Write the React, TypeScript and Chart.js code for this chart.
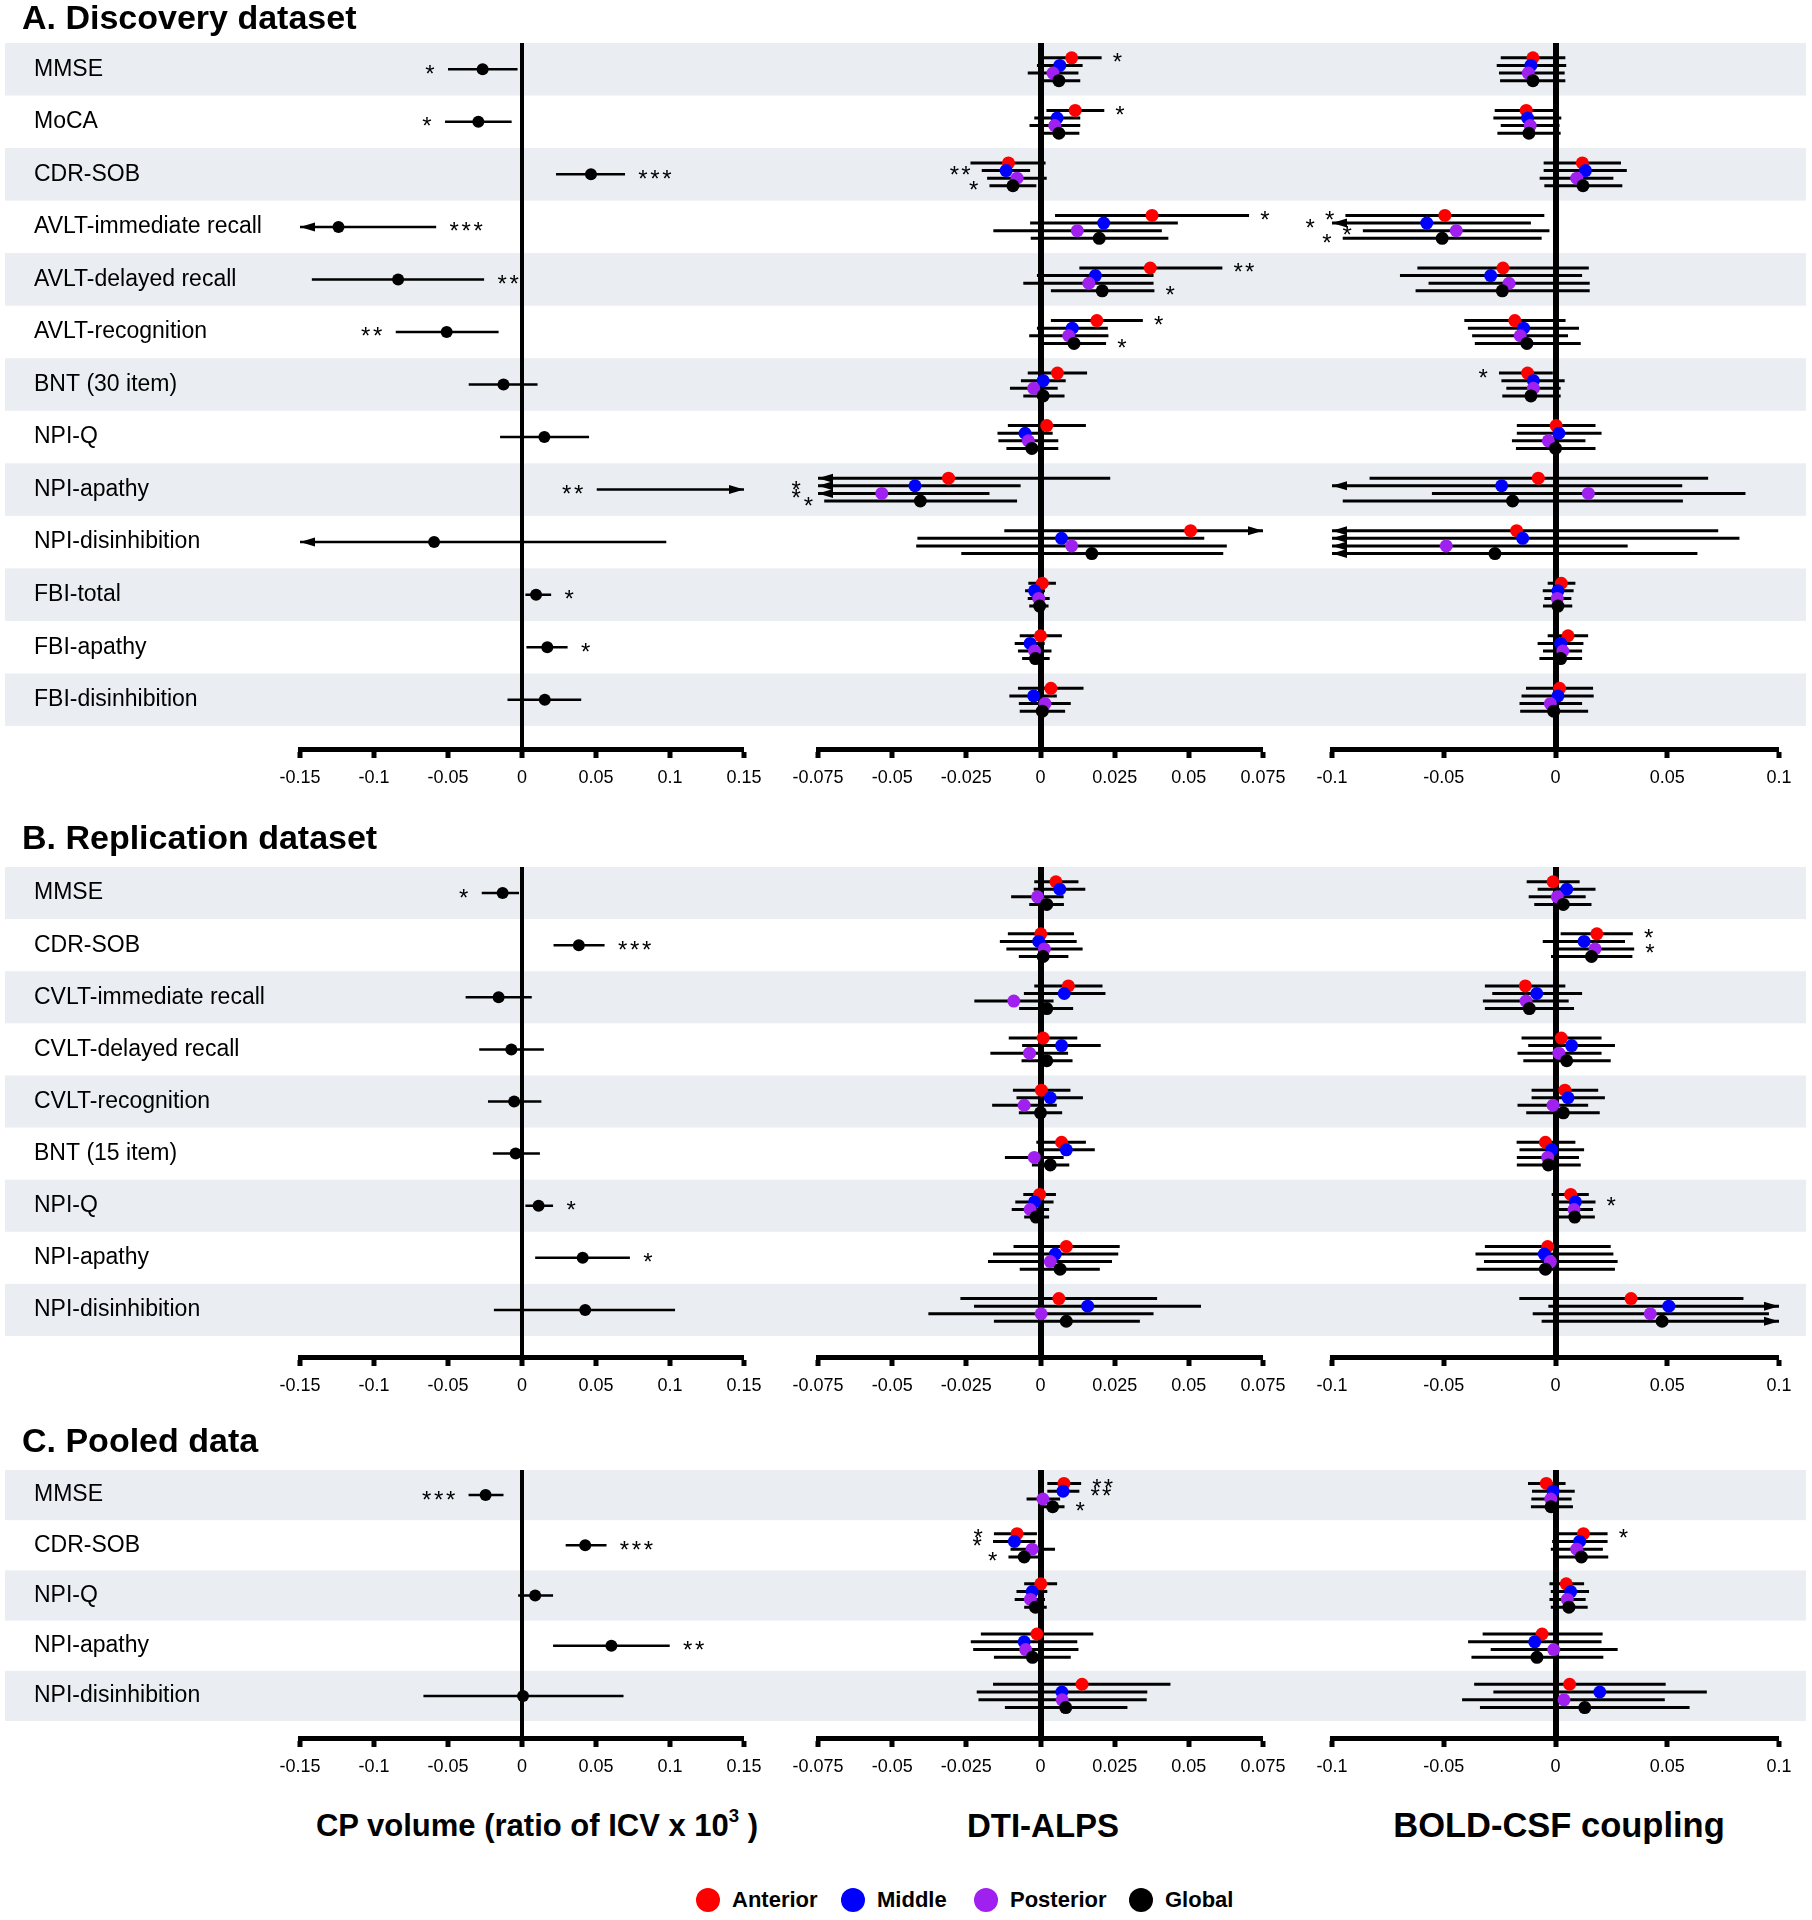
import React, { useEffect, useRef } from 'react';
import { Chart, registerables } from 'chart.js';

Chart.register(...registerables);

const FONT = '"Liberation Sans", Arial, Helvetica, sans-serif';
Chart.defaults.font.family = FONT;
Chart.defaults.color = '#000';

// ---------------- categories ----------------
const rowsA = ['MMSE', 'MoCA', 'CDR-SOB', 'AVLT-immediate recall', 'AVLT-delayed recall', 'AVLT-recognition', 'BNT (30 item)', 'NPI-Q', 'NPI-apathy', 'NPI-disinhibition', 'FBI-total', 'FBI-apathy', 'FBI-disinhibition'];
const rowsB = ['MMSE', 'CDR-SOB', 'CVLT-immediate recall', 'CVLT-delayed recall', 'CVLT-recognition', 'BNT (15 item)', 'NPI-Q', 'NPI-apathy', 'NPI-disinhibition'];
const rowsC = ['MMSE', 'CDR-SOB', 'NPI-Q', 'NPI-apathy', 'NPI-disinhibition'];

const seriesNames = ['Anterior', 'Middle', 'Posterior', 'Global'];
const seriesColors = ['#ff0000', '#0000ff', '#a020f0', '#000000'];
const cpColors = ['#000000'];

const axisTitles = ['CP volume (ratio of ICV x 10', 'DTI-ALPS', 'BOLD-CSF coupling'];

// ---------------- tick labels ----------------
const cpTicks = [-0.15, -0.1, -0.05, 0, 0.05, 0.1, 0.15];
const cpTickLabels = ['-0.15', '-0.1', '-0.05', '0', '0.05', '0.1', '0.15'];
const alpsTicks = [-0.075, -0.05, -0.025, 0, 0.025, 0.05, 0.075];
const alpsTickLabels = ['-0.075', '-0.05', '-0.025', '0', '0.025', '0.05', '0.075'];
const boldTicks = [-0.1, -0.05, 0, 0.05, 0.1];
const boldTickLabels = ['-0.1', '-0.05', '0', '0.05', '0.1'];

// ---------------- data: [estimate, lower, upper] ----------------
// A. Discovery
const A_CP = [[-0.0266, -0.05, -0.003], [-0.0295, -0.052, -0.007], [0.0466, 0.023, 0.0696], [-0.124, -0.175, -0.058], [-0.0837, -0.142, -0.0256], [-0.0509, -0.0853, -0.0158], [-0.0125, -0.036, 0.0105], [0.0151, -0.0148, 0.0453], [0.18, 0.0505, 0.3], [-0.0594, -0.215, 0.0975], [0.0095, 0.0023, 0.0197], [0.0171, 0.003, 0.0308], [0.0154, -0.0098, 0.04]];

const A_ALPS_Anterior = [[0.0105, 0.0006, 0.0206], [0.0117, 0.002, 0.0215], [-0.0108, -0.0236, 0.0017], [0.0376, 0.0049, 0.0703], [0.037, 0.0131, 0.0613], [0.019, 0.0035, 0.0345], [0.0057, -0.0043, 0.0157], [0.0021, -0.011, 0.0153], [-0.031, -0.09, 0.0235], [0.0506, -0.0122, 0.09], [0.0006, -0.0041, 0.0052], [0, -0.007, 0.0072], [0.0035, -0.0076, 0.0145]];
const A_ALPS_Middle = [[0.0065, -0.0012, 0.0142], [0.0056, -0.0021, 0.0134], [-0.0116, -0.0198, -0.0035], [0.0213, -0.0035, 0.0463], [0.0185, -0.0012, 0.0381], [0.0107, -0.0012, 0.0227], [0.0009, -0.0066, 0.0085], [-0.0052, -0.0145, 0.0041], [-0.0423, -0.085, -0.0067], [0.0071, -0.0415, 0.0552], [-0.002, -0.0052, 0.0015], [-0.0035, -0.0087, 0.0014], [-0.0023, -0.0105, 0.0055]];
const A_ALPS_Posterior = [[0.0042, -0.0043, 0.0128], [0.0048, -0.0037, 0.0134], [-0.0079, -0.018, 0.0021], [0.0124, -0.0159, 0.0409], [0.0163, -0.0058, 0.0381], [0.0095, -0.0038, 0.0229], [-0.0023, -0.0103, 0.0058], [-0.0041, -0.0142, 0.006], [-0.0535, -0.095, -0.0172], [0.0105, -0.0419, 0.0628], [-0.0006, -0.0043, 0.0031], [-0.002, -0.0076, 0.0037], [0.0015, -0.0073, 0.0102]];
const A_ALPS_Global = [[0.0062, 0.0005, 0.0134], [0.0062, 0.0003, 0.0131], [-0.0093, -0.0172, -0.0014], [0.0198, -0.0033, 0.0431], [0.0208, 0.0035, 0.0384], [0.0113, 0.0006, 0.0221], [0.0009, -0.0058, 0.0081], [-0.0029, -0.0115, 0.006], [-0.0405, -0.0729, -0.0079], [0.0173, -0.0267, 0.0616], [-0.0003, -0.0038, 0.0027], [-0.0017, -0.0062, 0.0031], [0.0006, -0.007, 0.0083]];

const A_BOLD_Anterior = [[-0.0101, -0.0245, 0.0044], [-0.0131, -0.0272, -0.0005], [0.012, -0.0053, 0.0293], [-0.0495, -0.094, -0.005], [-0.0235, -0.0618, 0.0149], [-0.0182, -0.0408, 0.0045], [-0.0125, -0.0253, -0.0012], [0.0003, -0.0173, 0.0179], [-0.0077, -0.0832, 0.0683], [-0.0174, -0.12, 0.0728], [0.0026, -0.0035, 0.0089], [0.0056, -0.0035, 0.0146], [0.0018, -0.0132, 0.0168]];
const A_BOLD_Middle = [[-0.011, -0.0263, 0.0048], [-0.0125, -0.0278, 0.0026], [0.0134, -0.0053, 0.0319], [-0.0576, -0.11, -0.011], [-0.029, -0.0696, 0.0119], [-0.0143, -0.0392, 0.0105], [-0.0099, -0.0242, 0.0041], [0.0015, -0.0173, 0.0206], [-0.0241, -0.11, 0.0567], [-0.0147, -0.12, 0.0823], [0.0011, -0.0057, 0.0081], [0.0023, -0.008, 0.0125], [0.0011, -0.0152, 0.0171]];
const A_BOLD_Posterior = [[-0.0122, -0.0253, 0.0041], [-0.0113, -0.0245, 0.0018], [0.0095, -0.0071, 0.0259], [-0.0444, -0.0862, -0.0027], [-0.0208, -0.0568, 0.0153], [-0.0158, -0.0373, 0.0056], [-0.0099, -0.022, 0.0023], [-0.0032, -0.0195, 0.0134], [0.0147, -0.0553, 0.085], [-0.0489, -0.12, 0.0323], [0.0008, -0.005, 0.0071], [0.0033, -0.0056, 0.0119], [-0.0023, -0.0161, 0.0119]];
const A_BOLD_Global = [[-0.0101, -0.0248, 0.0044], [-0.0119, -0.026, 0.0023], [0.0123, -0.005, 0.0299], [-0.0507, -0.0952, -0.0062], [-0.0238, -0.0626, 0.0153], [-0.0128, -0.0361, 0.0113], [-0.011, -0.0238, 0.0023], [0, -0.0177, 0.0179], [-0.0192, -0.0952, 0.057], [-0.0271, -0.12, 0.0635], [0.0011, -0.0056, 0.0075], [0.0023, -0.0072, 0.0119], [-0.0008, -0.0158, 0.0146]];

// B. Replication
const B_CP = [[-0.0131, -0.0272, -0.002], [0.0384, 0.0213, 0.0558], [-0.0158, -0.0381, 0.0066], [-0.0072, -0.0289, 0.0148], [-0.0053, -0.023, 0.0131], [-0.0043, -0.0197, 0.0121], [0.0112, 0.0023, 0.021], [0.041, 0.0089, 0.0729], [0.0427, -0.019, 0.1034]];

const B_ALPS_Anterior = [[0.0052, -0.0021, 0.0128], [0.0001, -0.011, 0.0113], [0.0094, -0.0021, 0.0209], [0.0009, -0.0107, 0.0124], [0.0003, -0.0093, 0.0101], [0.0071, -0.0014, 0.0153], [-0.0003, -0.0058, 0.0052], [0.0087, -0.0091, 0.0267], [0.0062, -0.027, 0.0393]];
const B_ALPS_Middle = [[0.0065, -0.0023, 0.0151], [-0.0006, -0.0137, 0.0122], [0.008, -0.0056, 0.0219], [0.0071, -0.0062, 0.0203], [0.0033, -0.0081, 0.0143], [0.0087, -0.0002, 0.0183], [-0.002, -0.0085, 0.0044], [0.005, -0.016, 0.0262], [0.0159, -0.0224, 0.0541]];
const B_ALPS_Posterior = [[-0.001, -0.0099, 0.0078], [0.0013, -0.0115, 0.0142], [-0.009, -0.0223, 0.0044], [-0.0037, -0.0169, 0.0093], [-0.0055, -0.0163, 0.0055], [-0.0021, -0.012, 0.0078], [-0.0035, -0.0097, 0.0029], [0.0033, -0.0177, 0.0241], [0.0002, -0.0378, 0.0381]];
const B_ALPS_Global = [[0.0021, -0.0038, 0.0079], [0.0009, -0.0073, 0.0094], [0.0021, -0.0072, 0.011], [0.0021, -0.0064, 0.0108], [0, -0.0073, 0.0073], [0.0033, -0.0029, 0.0097], [-0.0015, -0.0055, 0.0029], [0.0066, -0.007, 0.02], [0.0087, -0.0157, 0.0335]];

const B_BOLD_Anterior = [[-0.0011, -0.0129, 0.0108], [0.0185, 0.0023, 0.0346], [-0.0135, -0.0316, 0.0044], [0.0026, -0.0152, 0.0206], [0.0042, -0.0107, 0.0191], [-0.0045, -0.0174, 0.0089], [0.0068, -0.0017, 0.0149], [-0.0035, -0.0316, 0.0247], [0.0338, -0.0162, 0.0841]];
const B_BOLD_Middle = [[0.005, -0.008, 0.0179], [0.0128, -0.0057, 0.0311], [-0.0084, -0.0283, 0.0119], [0.0072, -0.0122, 0.0266], [0.0056, -0.0107, 0.0221], [-0.0017, -0.0161, 0.0128], [0.0089, 0.0006, 0.0179], [-0.005, -0.0358, 0.0259], [0.0507, -0.0032, 0.11]];
const B_BOLD_Posterior = [[0.0008, -0.012, 0.0135], [0.0177, 0.0003, 0.0352], [-0.0132, -0.0325, 0.0059], [0.0015, -0.017, 0.0206], [-0.0011, -0.017, 0.0146], [-0.0035, -0.0173, 0.0105], [0.0083, 0.0006, 0.0168], [-0.0023, -0.032, 0.0278], [0.0424, -0.0102, 0.0955]];
const B_BOLD_Global = [[0.0035, -0.0095, 0.0161], [0.0161, -0.002, 0.0344], [-0.0117, -0.0316, 0.0083], [0.005, -0.0144, 0.0247], [0.0035, -0.0131, 0.0198], [-0.0032, -0.0173, 0.0113], [0.0086, 0.0006, 0.0176], [-0.0045, -0.0353, 0.0266], [0.0477, -0.0062, 0.11]];

// C. Pooled
const C_CP = [[-0.0246, -0.0361, -0.0125], [0.0427, 0.0295, 0.0571], [0.0089, -0.0026, 0.021], [0.0604, 0.021, 0.0998], [0.0007, -0.0666, 0.0686]];

const C_ALPS_Anterior = [[0.0079, 0.0023, 0.0137], [-0.0079, -0.0157, -0.0012], [0.0001, -0.0055, 0.0056], [-0.0012, -0.0201, 0.0178], [0.014, -0.016, 0.0438]];
const C_ALPS_Middle = [[0.0076, 0.0023, 0.0131], [-0.0088, -0.016, -0.0017], [-0.0028, -0.0081, 0.0023], [-0.0055, -0.0235, 0.0124], [0.0072, -0.0215, 0.036]];
const C_ALPS_Posterior = [[0.0008, -0.0047, 0.0066], [-0.0028, -0.0101, 0.0049], [-0.0034, -0.0087, 0.0015], [-0.005, -0.0227, 0.0128], [0.0073, -0.0209, 0.0358]];
const C_ALPS_Global = [[0.0041, 0.0008, 0.0081], [-0.0055, -0.0108, -0.0008], [-0.0017, -0.0055, 0.0021], [-0.0027, -0.0157, 0.0102], [0.0085, -0.012, 0.0293]];

const C_BOLD_Anterior = [[-0.0041, -0.0123, 0.0045], [0.0125, 0.0015, 0.0233], [0.0048, -0.0027, 0.0128], [-0.006, -0.0326, 0.0211], [0.0063, -0.0364, 0.0493]];
const C_BOLD_Middle = [[-0.0011, -0.0105, 0.0086], [0.0108, -0.0015, 0.0233], [0.0068, -0.0021, 0.015], [-0.0093, -0.0391, 0.0206], [0.0198, -0.0278, 0.0677]];
const C_BOLD_Posterior = [[-0.0021, -0.0108, 0.0072], [0.0095, -0.0021, 0.0212], [0.0053, -0.0027, 0.0135], [-0.0008, -0.029, 0.0278], [0.0038, -0.0418, 0.0489]];
const C_BOLD_Global = [[-0.002, -0.011, 0.0078], [0.0116, 0.001, 0.0236], [0.006, -0.0021, 0.0144], [-0.0083, -0.0376, 0.0214], [0.0131, -0.0338, 0.06]];

// ---------------- significance marks: [row, series, text, side] ----------------
const A_CP_stars = [[0, 0, '*', 'L'], [1, 0, '*', 'L'], [2, 0, '***', 'R'], [3, 0, '***', 'R'], [4, 0, '**', 'R'], [5, 0, '**', 'L'], [8, 0, '**', 'L'], [10, 0, '*', 'R'], [11, 0, '*', 'R']];
const A_ALPS_stars = [[0, 0, '*', 'R'], [1, 0, '*', 'R'], [2, 1, '**', 'L'], [2, 3, '*', 'L'], [3, 0, '*', 'R'], [4, 0, '**', 'R'], [4, 3, '*', 'R'], [5, 0, '*', 'R'], [5, 3, '*', 'R'], [8, 1, '*', 'L'], [8, 2, '*', 'L'], [8, 3, '*', 'L']];
const A_BOLD_stars = [[3, 0, '*', 'L'], [3, 1, '*', 'L'], [3, 2, '*', 'L'], [3, 3, '*', 'L'], [6, 0, '*', 'L']];
const B_CP_stars = [[0, 0, '*', 'L'], [1, 0, '***', 'R'], [6, 0, '*', 'R'], [7, 0, '*', 'R']];
const B_ALPS_stars: any[] = [];
const B_BOLD_stars = [[1, 0, '*', 'R'], [1, 2, '*', 'R'], [6, 1, '*', 'R']];
const C_CP_stars = [[0, 0, '***', 'L'], [1, 0, '***', 'R'], [3, 0, '**', 'R']];
const C_ALPS_stars = [[0, 0, '**', 'R'], [0, 1, '**', 'R'], [0, 3, '*', 'R'], [1, 0, '*', 'L'], [1, 1, '*', 'L'], [1, 3, '*', 'L']];
const C_BOLD_stars = [[1, 0, '*', 'R']];

// ---------------- layout / style ----------------
const CANVAS_COLS = [
  { left: 0, width: 781, padL: 34, padR: 37, yAxisW: 266 },
  { left: 781, width: 517, padL: 37, padR: 35, yAxisW: 0 },
  { left: 1298, width: 514, padL: 34, padR: 33, yAxisW: 0 },
];
const STYLE_CP = { zeroW: 4, lineW: 2.5, r: 6, starSize: 24, starStep: 12, starGap: 12, starBase: 12.5 };
const STYLE_RG = { zeroW: 6, lineW: 3, r: 6.5, starSize: 24, starStep: 11.5, starGap: 10, starBase: 12.5 };
const BAND_COLOR = '#eaedf2';
const BAND_X0 = 5;
const BAND_X1 = 1806;
const PAD_TOP = 15;
const XAXIS_H = 50;
const ARROW_LEN = 15;
const ARROW_HW = 4.5;
const ROW_LABEL_SIZE = 23;
const TICK_SIZE = 18;

const PANELS = [
  {
    title: 'A. Discovery dataset', titleTop: 0, rows: rowsA, bandTop: 43, bandBottom: 726, axisY: 749, seriesStep: 0.145,
    cols: [
      { series: [A_CP], colors: cpColors, ticks: cpTicks, tickLabels: cpTickLabels, stars: A_CP_stars },
      { series: [A_ALPS_Anterior, A_ALPS_Middle, A_ALPS_Posterior, A_ALPS_Global], colors: seriesColors, ticks: alpsTicks, tickLabels: alpsTickLabels, stars: A_ALPS_stars },
      { series: [A_BOLD_Anterior, A_BOLD_Middle, A_BOLD_Posterior, A_BOLD_Global], colors: seriesColors, ticks: boldTicks, tickLabels: boldTickLabels, stars: A_BOLD_stars },
    ],
  },
  {
    title: 'B. Replication dataset', titleTop: 820, rows: rowsB, bandTop: 867, bandBottom: 1336, axisY: 1357, seriesStep: 0.145,
    cols: [
      { series: [B_CP], colors: cpColors, ticks: cpTicks, tickLabels: cpTickLabels, stars: B_CP_stars },
      { series: [B_ALPS_Anterior, B_ALPS_Middle, B_ALPS_Posterior, B_ALPS_Global], colors: seriesColors, ticks: alpsTicks, tickLabels: alpsTickLabels, stars: B_ALPS_stars },
      { series: [B_BOLD_Anterior, B_BOLD_Middle, B_BOLD_Posterior, B_BOLD_Global], colors: seriesColors, ticks: boldTicks, tickLabels: boldTickLabels, stars: B_BOLD_stars },
    ],
  },
  {
    title: 'C. Pooled data', titleTop: 1423, rows: rowsC, bandTop: 1470, bandBottom: 1721, axisY: 1738, seriesStep: 0.155,
    cols: [
      { series: [C_CP], colors: cpColors, ticks: cpTicks, tickLabels: cpTickLabels, stars: C_CP_stars },
      { series: [C_ALPS_Anterior, C_ALPS_Middle, C_ALPS_Posterior, C_ALPS_Global], colors: seriesColors, ticks: alpsTicks, tickLabels: alpsTickLabels, stars: C_ALPS_stars },
      { series: [C_BOLD_Anterior, C_BOLD_Middle, C_BOLD_Posterior, C_BOLD_Global], colors: seriesColors, ticks: boldTicks, tickLabels: boldTickLabels, stars: C_BOLD_stars },
    ],
  },
];

function drawArrow(ctx: any, x: number, y: number, dir: number) {
  ctx.beginPath();
  ctx.moveTo(x, y);
  ctx.lineTo(x - dir * ARROW_LEN, y - ARROW_HW);
  ctx.lineTo(x - dir * ARROW_LEN, y + ARROW_HW);
  ctx.closePath();
  ctx.fill();
}

function buildConfig(panel: any, colIdx: number) {
  const geo = CANVAS_COLS[colIdx];
  const st = colIdx === 0 ? STYLE_CP : STYLE_RG;
  const col = panel.cols[colIdx];
  const n = panel.rows.length;
  const rowH = (panel.bandBottom - panel.bandTop) / n;
  const yMax = -0.5 + (panel.axisY - panel.bandTop) / rowH;
  const ns = col.series.length;
  const off = (s: number) => (ns === 1 ? 0 : (s - (ns - 1) / 2) * panel.seriesStep);
  const xMin = col.ticks[0];
  const xMax = col.ticks[col.ticks.length - 1];

  const datasets: any[] = [];
  col.series.forEach((rows: number[][], s: number) => {
    const data: any[] = [];
    rows.forEach((t, r) => {
      data.push({ x: t[1], y: r + off(s) }, { x: t[2], y: r + off(s) }, { x: t[0], y: null });
    });
    datasets.push({
      label: (ns === 1 ? 'CP volume' : seriesNames[s]) + ' CI',
      data, showLine: true, spanGaps: false, borderColor: '#000', borderWidth: st.lineW,
      pointRadius: 0, pointHoverRadius: 0, order: 100 + s,
    });
  });
  col.series.forEach((rows: number[][], s: number) => {
    datasets.push({
      label: ns === 1 ? 'CP volume' : seriesNames[s],
      data: rows.map((t, r) => ({ x: t[0], y: r + off(s) })),
      showLine: false, pointRadius: st.r, pointHoverRadius: st.r,
      pointBackgroundColor: col.colors[s], backgroundColor: col.colors[s], borderColor: col.colors[s],
      pointBorderWidth: 0, order: ns - s,
    });
  });

  const bands = {
    id: 'bands',
    beforeDraw(chart: any) {
      const { ctx } = chart;
      const y = chart.scales.y;
      const x0 = Math.max(0, BAND_X0 - geo.left);
      const x1 = Math.min(chart.width, BAND_X1 - geo.left);
      ctx.save();
      ctx.fillStyle = BAND_COLOR;
      for (let i = 0; i < n; i += 2) {
        const a = y.getPixelForValue(i - 0.5);
        const b = y.getPixelForValue(i + 0.5);
        ctx.fillRect(x0, a, x1 - x0, b - a);
      }
      ctx.restore();
    },
  };

  const annot = {
    id: 'annot',
    afterDatasetsDraw(chart: any) {
      const { ctx, chartArea } = chart;
      const x = chart.scales.x;
      const y = chart.scales.y;
      ctx.save();
      ctx.fillStyle = '#000';
      col.series.forEach((rows: number[][], s: number) => {
        rows.forEach((t, r) => {
          const py = y.getPixelForValue(r + off(s));
          if (t[1] < xMin) drawArrow(ctx, chartArea.left, py, -1);
          if (t[2] > xMax) drawArrow(ctx, chartArea.right, py, 1);
        });
      });
      ctx.font = `${st.starSize}px ${FONT}`;
      ctx.textAlign = 'center';
      ctx.textBaseline = 'alphabetic';
      col.stars.forEach((m: any[]) => {
        const [r, s, txt, side] = m;
        const t = col.series[s][r];
        const py = y.getPixelForValue(r + off(s));
        const end = side === 'L' ? t[1] : t[2];
        const beyond = side === 'L' ? end < xMin : end > xMax;
        const ex = x.getPixelForValue(Math.max(xMin, Math.min(xMax, end)));
        const gap = st.starGap + (beyond ? 6 : 0);
        const w = txt.length * st.starStep;
        const sx = side === 'L' ? ex - gap - w : ex + gap;
        const base = py + st.starBase;
        for (let k = 0; k < txt.length; k++) ctx.fillText('*', sx + st.starStep * (k + 0.5), base);
      });
      ctx.restore();
    },
  };

  return {
    type: 'scatter',
    data: { datasets },
    options: {
      responsive: false,
      animation: false,
      devicePixelRatio: 1,
      events: [],
      layout: { padding: { left: geo.padL, right: geo.padR, top: PAD_TOP, bottom: 0 } },
      plugins: { legend: { display: false }, tooltip: { enabled: false } },
      scales: {
        x: {
          type: 'linear', position: 'bottom', min: xMin, max: xMax, bounds: 'data',
          afterBuildTicks: (sc: any) => { sc.ticks = col.ticks.map((v: number) => ({ value: v })); },
          afterFit: (sc: any) => { sc.height = XAXIS_H; },
          ticks: {
            callback: (_v: any, i: number) => col.tickLabels[i],
            font: { size: TICK_SIZE, family: FONT }, color: '#000', padding: 9.5,
            autoSkip: false, maxRotation: 0, minRotation: 0,
          },
          grid: {
            display: true, drawOnChartArea: true, drawTicks: true,
            tickLength: 9, tickWidth: 5, tickColor: '#000',
            color: (c: any) => (c.tick && c.tick.value === 0 ? '#000' : 'rgba(0,0,0,0)'),
            lineWidth: (c: any) => (c.tick && c.tick.value === 0 ? st.zeroW : 0),
          },
          border: { display: true, color: '#000', width: 5 },
        },
        y: {
          type: 'linear', position: 'left', reverse: true, min: -0.5, max: yMax, bounds: 'data',
          display: colIdx === 0,
          afterBuildTicks: (sc: any) => { sc.ticks = panel.rows.map((_l: string, i: number) => ({ value: i })); },
          afterFit: (sc: any) => { sc.width = geo.yAxisW; },
          ticks: {
            callback: (v: any) => panel.rows[Math.round(v)] ?? '',
            crossAlign: 'far', font: { size: ROW_LABEL_SIZE, family: FONT }, color: '#000', autoSkip: false, padding: 0,
          },
          grid: { display: false },
          border: { display: false },
        },
      },
    },
    plugins: [bands, annot],
  };
}

function ForestCanvas({ panel, colIdx }: any) {
  const ref = useRef<HTMLCanvasElement | null>(null);
  const geo = CANVAS_COLS[colIdx];
  const top = panel.bandTop - PAD_TOP;
  const height = PAD_TOP + (panel.axisY - panel.bandTop) + XAXIS_H;
  useEffect(() => {
    const chart = new Chart(ref.current as HTMLCanvasElement, buildConfig(panel, colIdx) as any);
    return () => chart.destroy();
  }, [panel, colIdx]);
  return (
    <canvas
      ref={ref}
      width={geo.width}
      height={height}
      style={{ position: 'absolute', left: geo.left, top, width: geo.width, height, display: 'block' }}
    />
  );
}

const AXIS_TITLE_CENTERS = [537, 1043, 1559];
const AXIS_TITLE_SIZES = [31, 33, 34.5];
const LEGEND_X = [708, 853, 986, 1141];

export default function App() {
  return (
    <div style={{ position: 'absolute', left: 0, top: 0, width: 1812, height: 1920, background: '#fff', fontFamily: FONT, color: '#000', overflow: 'hidden' }}>
      {PANELS.map((p, pi) => (
        <React.Fragment key={pi}>
          {p.cols.map((_c, ci) => <ForestCanvas key={ci} panel={p} colIdx={ci} />)}
          <div style={{ position: 'absolute', left: 22, top: p.titleTop, fontSize: 34, lineHeight: '34px', fontWeight: 'bold', whiteSpace: 'nowrap', zIndex: 2 }}>
            {p.title}
          </div>
        </React.Fragment>
      ))}
      {axisTitles.map((t, i) => (
        <div key={i} style={{ position: 'absolute', left: AXIS_TITLE_CENTERS[i] - 300, width: 600, top: 1825 - AXIS_TITLE_SIZES[i] / 2, textAlign: 'center', fontSize: AXIS_TITLE_SIZES[i], lineHeight: `${AXIS_TITLE_SIZES[i]}px`, fontWeight: 'bold', whiteSpace: 'nowrap' }}>
          {i === 0 ? (
            <>
              {t}
              <span style={{ fontSize: '0.6em', position: 'relative', top: '-0.75em' }}>3</span>
              {' )'}
            </>
          ) : t}
        </div>
      ))}
      {seriesNames.map((name, i) => (
        <React.Fragment key={name}>
          <div style={{ position: 'absolute', left: LEGEND_X[i] - 12, top: 1888, width: 24, height: 24, borderRadius: '50%', background: seriesColors[i] }} />
          <div style={{ position: 'absolute', left: LEGEND_X[i] + 24, top: 1889, fontSize: 22, lineHeight: '22px', fontWeight: 'bold', whiteSpace: 'nowrap' }}>{name}</div>
        </React.Fragment>
      ))}
    </div>
  );
}
